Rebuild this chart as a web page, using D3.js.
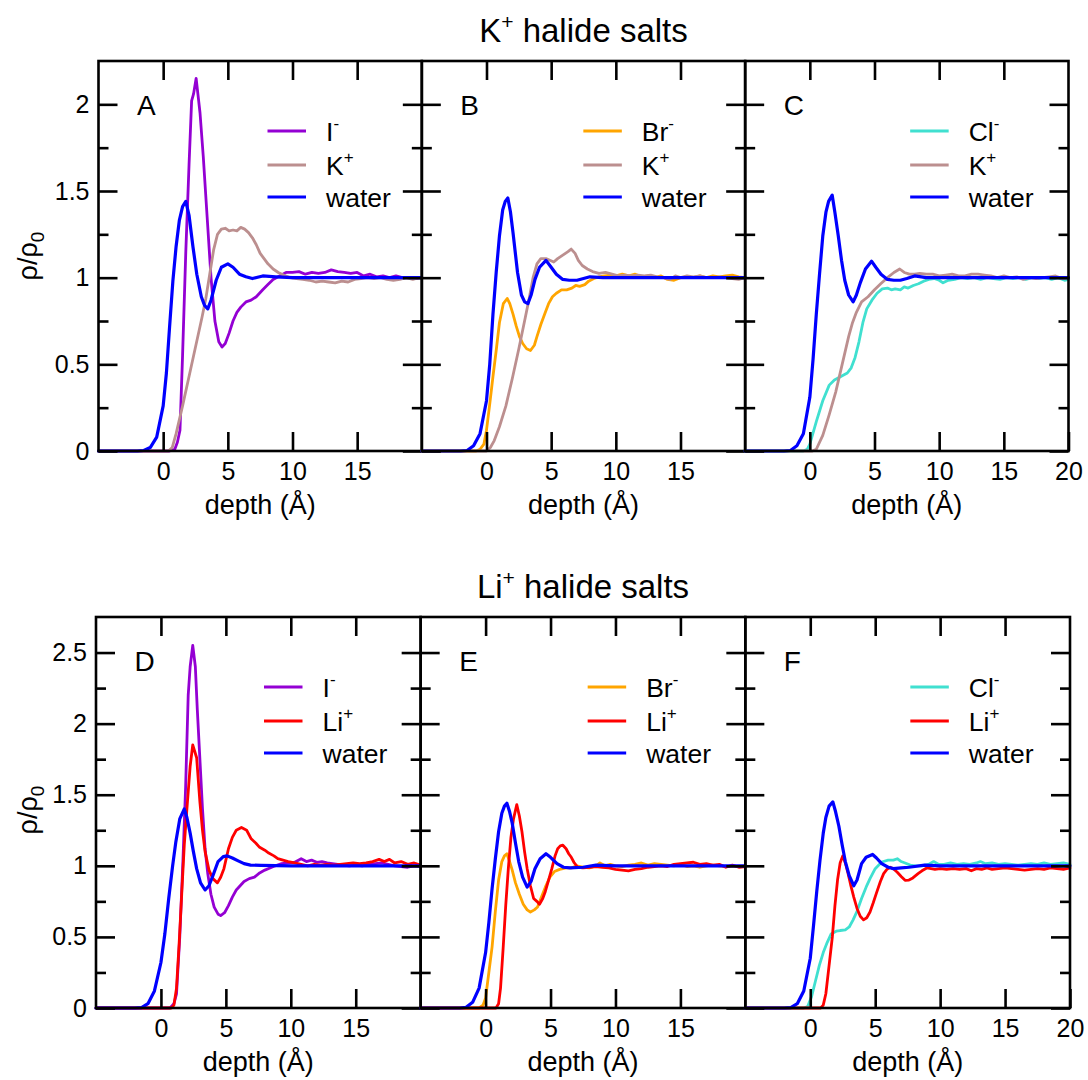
<!DOCTYPE html>
<meta charset="utf-8">
<style>
body { margin: 0; background: #fff; }
svg { font-family: "Liberation Sans", Arial, Helvetica, sans-serif; }
.frame { fill: none; stroke: #000; stroke-width: 2.6; }
.series { fill: none; stroke-linejoin: round; stroke-linecap: round; }
</style>
<svg width="1088" height="1080"></svg>
<script src="https://d3js.org/d3.v7.min.js"></script>
<script>

// ---- axis ticks ----
var xDomain = [-5, 20];
var xLabelsInner = [0, 5, 10, 15];
var xLabelsLast = [0, 5, 10, 15, 20];
var yMajorTop = [0, 0.5, 1, 1.5, 2];
var yMinorTop = [0.25, 0.75, 1.25, 1.75];
var yMajorBottom = [0, 0.5, 1, 1.5, 2, 2.5];
var yMinorBottom = [0.25, 0.75, 1.25, 1.75, 2.25];

// ---- panel A : KI ----
var waterA = [[-5,0],[-2,0],[-1.5,0.003],[-1,0.02],[-0.5,0.08],[0,0.26],[0.25,0.45],[0.5,0.72],[0.75,0.98],[1,1.18],[1.25,1.33],[1.5,1.41],[1.75,1.44],[2,1.36],[2.3,1.18],[2.6,1.02],[2.95,0.89],[3.2,0.84],[3.45,0.82],[3.7,0.87],[4.1,0.985],[4.5,1.06],[5,1.08],[5.4,1.06],[5.9,1.02],[6.4,1.005],[6.9,0.995],[7.7,1.01],[8.7,1.005],[10,1],[12,1],[15,1],[18,1],[20,1]];
var iodideA = [[-5,0],[0.5,0],[0.9,0.01],[1.1,0.05],[1.3,0.12],[1.5,0.55],[1.75,1.15],[2,1.65],[2.2,2.02],[2.35,2.06],[2.55,2.15],[2.7,2.05],[2.85,1.95],[3.1,1.7],[3.4,1.35],[3.7,1.0],[4,0.75],[4.3,0.63],[4.55,0.6],[4.8,0.62],[5.1,0.68],[5.4,0.75],[5.7,0.8],[6,0.83],[6.4,0.86],[6.8,0.87],[7.2,0.89],[7.7,0.93],[8.1,0.96],[8.5,0.99],[9,1.01],[9.5,1.03],[10,1.03],[10.5,1.035],[11,1.02],[11.5,1.03],[12,1.025],[12.5,1.03],[13,1.045],[13.5,1.035],[14,1.03],[14.5,1.025],[15,1.03],[15.5,1.01],[16,1.02],[16.5,1.005],[17,1.01],[17.5,1],[18,1.01],[18.5,1],[19,1],[19.5,0.995],[20,1]];
var potassiumA = [[-5,0],[0.4,0],[0.7,0.02],[1,0.1],[1.5,0.26],[2,0.43],[2.5,0.6],[3,0.77],[3.3,0.88],[3.6,1.02],[3.9,1.16],[4.2,1.25],[4.5,1.28],[4.8,1.285],[5.1,1.27],[5.4,1.275],[5.7,1.27],[6,1.29],[6.3,1.28],[6.6,1.26],[6.9,1.23],[7.2,1.19],[7.5,1.14],[7.8,1.11],[8.1,1.08],[8.5,1.05],[8.9,1.03],[9.3,1.015],[9.8,1],[10.3,0.995],[10.8,0.99],[11.3,0.985],[11.8,0.975],[12.3,0.98],[12.8,0.975],[13.3,0.97],[13.8,0.98],[14.3,0.975],[14.8,0.99],[15.3,0.995],[15.8,1],[16.3,0.995],[16.8,1],[17.3,0.99],[17.8,0.985],[18.3,0.99],[18.8,1],[19.3,0.99],[19.8,1],[20,0.995]];

// ---- panel B : KBr ----
var waterB = [[-5,0],[-2,0],[-1.5,0.003],[-1,0.03],[-0.5,0.1],[0,0.29],[0.25,0.5],[0.5,0.79],[0.75,1.03],[1,1.24],[1.25,1.39],[1.45,1.44],[1.65,1.46],[1.85,1.38],[2.05,1.26],[2.4,1.03],[2.7,0.9],[2.95,0.86],[3.2,0.85],[3.45,0.9],[3.75,0.99],[4.1,1.06],[4.6,1.1],[5,1.06],[5.4,1.02],[5.9,0.99],[6.4,0.985],[7,0.985],[7.5,0.995],[8,1.005],[9,1],[20,1]];
var bromideB = [[-5,0],[-0.8,0],[-0.5,0.01],[-0.2,0.04],[0,0.12],[0.25,0.27],[0.5,0.43],[0.75,0.58],[1,0.74],[1.3,0.85],[1.6,0.88],[1.8,0.85],[2.05,0.79],[2.3,0.72],[2.55,0.66],[2.8,0.62],[3.1,0.59],[3.4,0.58],[3.7,0.61],[3.9,0.66],[4.2,0.73],[4.5,0.79],[4.8,0.85],[5.1,0.89],[5.4,0.91],[5.8,0.93],[6.2,0.93],[6.6,0.94],[6.9,0.955],[7.2,0.95],[7.6,0.96],[7.9,0.98],[8.3,0.995],[8.7,1.005],[9.1,1.01],[9.6,1.015],[10,1.01],[10.5,1.02],[11,1.01],[11.5,1.02],[12,1.005],[12.5,1.01],[13,1],[13.5,1.01],[14,0.99],[14.5,0.985],[15,1],[15.5,1.005],[16,1],[16.5,1.01],[17,1],[17.5,1.01],[18,1.005],[18.5,1.01],[19,1.015],[19.5,1.005],[20,1]];
var potassiumB = [[-5,0],[0,0],[0.3,0.02],[0.6,0.06],[1,0.14],[1.5,0.26],[2,0.42],[2.5,0.59],[3,0.77],[3.3,0.88],[3.6,1],[3.9,1.08],[4.2,1.11],[4.6,1.11],[4.9,1.1],[5.2,1.09],[5.5,1.11],[5.9,1.13],[6.3,1.15],[6.55,1.165],[6.85,1.14],[7.1,1.1],[7.4,1.07],[7.8,1.05],[8.2,1.035],[8.7,1.025],[9.2,1.03],[9.7,1.02],[10.2,1.01],[10.7,1.015],[11.2,1.01],[11.7,1.015],[12.2,1.01],[12.7,1.015],[13.2,1.005],[13.7,1],[14.2,0.99],[14.6,1.01],[15,1],[15.5,1.01],[16,1.005],[16.5,1.01],[17,1],[17.5,1],[18,1.005],[18.5,1],[19,0.995],[19.5,0.99],[20,1]];

// ---- panel C : KCl ----
var waterC = [[-5,0],[-2,0],[-1.5,0.003],[-1,0.03],[-0.5,0.1],[0,0.31],[0.25,0.53],[0.5,0.79],[0.75,1.02],[1,1.24],[1.25,1.38],[1.45,1.44],[1.73,1.476],[1.95,1.37],[2.2,1.24],[2.45,1.1],[2.7,0.985],[3,0.9],[3.35,0.86],[3.6,0.9],[3.9,0.97],[4.3,1.05],[4.77,1.095],[5.1,1.06],[5.5,1.02],[6,0.99],[6.5,0.985],[7,0.985],[7.5,0.995],[8.1,1.01],[9,1],[20,1]];
var chlorideC = [[-5,0],[-0.5,0],[-0.2,0.01],[0,0.04],[0.5,0.17],[1,0.29],[1.5,0.38],[1.9,0.41],[2.4,0.43],[2.9,0.45],[3.2,0.48],[3.5,0.54],[3.8,0.63],[4.1,0.74],[4.4,0.82],[4.8,0.87],[5.2,0.91],[5.6,0.935],[6,0.94],[6.3,0.93],[6.6,0.935],[7,0.93],[7.3,0.947],[7.6,0.94],[8,0.955],[8.4,0.965],[8.8,0.98],[9.2,0.99],[9.6,0.995],[10,0.985],[10.3,0.97],[10.7,0.985],[11.2,0.99],[11.7,1],[12.2,0.995],[12.7,1],[13.2,0.99],[13.7,1],[14.2,0.995],[14.7,0.99],[15.2,1],[15.7,0.995],[16.2,1],[16.7,0.99],[17.2,1],[17.7,0.995],[18.2,1],[18.7,0.99],[19.2,1],[19.7,0.985],[20,0.99]];
var potassiumC = [[-5,0],[0.2,0],[0.5,0.01],[1,0.09],[1.5,0.21],[2,0.34],[2.5,0.5],[3,0.66],[3.3,0.74],[3.6,0.8],[4,0.86],[4.5,0.89],[5,0.93],[5.5,0.966],[6,1],[6.5,1.03],[6.95,1.05],[7.3,1.03],[7.7,1.02],[8.1,1.02],[8.5,1.025],[9,1.02],[9.5,1.02],[10,1.01],[10.5,1.015],[11,1.02],[11.5,1.01],[12,1.01],[12.5,1.02],[13,1.02],[13.5,1.015],[14,1.01],[14.5,1],[15,1.01],[15.5,1],[16,1.005],[16.5,0.99],[17,1],[17.5,0.995],[18,1],[18.5,1.005],[19,1.01],[19.5,0.995],[20,1]];

// ---- panel D : LiI ----
var waterD = [[-5,0],[-2,0],[-1.5,0.003],[-1,0.03],[-0.5,0.12],[0,0.32],[0.3,0.52],[0.6,0.77],[0.9,1],[1.15,1.17],[1.45,1.33],[1.8,1.4],[2,1.34],[2.25,1.23],[2.5,1.1],[2.75,0.98],[3.05,0.88],[3.4,0.83],[3.7,0.86],[4,0.93],[4.4,1.03],[4.8,1.065],[5.1,1.07],[5.5,1.055],[5.95,1.035],[6.4,1.015],[6.9,1.005],[7.7,1.003],[10,1],[20,1]];
var iodideD = [[-5,0],[0.7,0],[1,0.03],[1.2,0.1],[1.45,0.5],[1.7,1.05],[1.9,1.55],[2.1,2.2],[2.25,2.4],[2.45,2.55],[2.65,2.4],[2.8,2.1],[3,1.75],[3.2,1.4],[3.4,1.12],[3.6,0.95],[3.85,0.8],[4.1,0.71],[4.4,0.66],[4.6,0.65],[4.9,0.67],[5.2,0.72],[5.5,0.78],[5.8,0.83],[6.1,0.86],[6.4,0.89],[6.8,0.91],[7.2,0.92],[7.6,0.95],[8,0.97],[8.4,0.985],[8.8,1],[9.3,1.015],[9.8,1.02],[10.3,1.025],[10.8,1.05],[11.2,1.03],[11.6,1.04],[12,1.025],[12.4,1.03],[12.8,1.02],[13.2,1.015],[13.6,1.01],[14,1.005],[14.5,1],[15,1.005],[15.5,1],[16,1.01],[16.5,1.015],[17,1.02],[17.5,1.01],[18,1],[18.5,0.995],[19,0.99],[19.5,1],[20,0.995]];
var lithiumD = [[-5,0],[0.8,0],[1,0.02],[1.2,0.14],[1.4,0.45],[1.6,0.8],[1.8,1.15],[2,1.4],[2.25,1.7],[2.45,1.85],[2.75,1.76],[3,1.45],[3.2,1.25],[3.4,1.1],[3.7,0.97],[4,0.91],[4.35,0.88],[4.6,0.92],[4.85,0.98],[5.2,1.12],[5.5,1.2],[5.8,1.25],[6.2,1.27],[6.6,1.25],[6.95,1.19],[7.3,1.16],[7.6,1.13],[8,1.11],[8.3,1.09],[8.7,1.07],[9,1.05],[9.4,1.04],[9.8,1.03],[10.3,1.02],[10.8,1.01],[11.3,1],[11.8,1.01],[12.3,1.005],[12.8,1.01],[13.3,1.005],[13.8,1.01],[14.3,1.015],[14.8,1.02],[15.3,1.015],[15.8,1.02],[16.3,1.03],[16.8,1.045],[17.2,1.03],[17.6,1.045],[18,1.02],[18.5,1.03],[19,1.01],[19.5,1.02],[20,1.005]];

// ---- panel E : LiBr ----
var waterE = [[-5,0],[-2,0],[-1.5,0.005],[-1,0.04],[-0.5,0.14],[0,0.39],[0.25,0.6],[0.5,0.84],[0.75,1.05],[1,1.24],[1.25,1.37],[1.45,1.42],[1.64,1.44],[1.85,1.38],[2.05,1.3],[2.3,1.16],[2.55,1.03],[2.85,0.92],[3.2,0.85],[3.5,0.89],[3.8,0.98],[4.2,1.05],[4.65,1.085],[5,1.06],[5.5,1.015],[6,0.99],[6.5,0.985],[7.5,0.99],[8.5,1.005],[10,1],[20,1]];
var bromideE = [[-5,0],[-0.5,0],[-0.2,0.02],[0,0.07],[0.25,0.25],[0.5,0.43],[0.75,0.68],[1,0.9],[1.25,1.03],[1.45,1.07],[1.64,1.085],[1.85,1.03],[2.05,0.97],[2.3,0.88],[2.6,0.8],[2.9,0.73],[3.2,0.69],[3.45,0.675],[3.75,0.69],[4,0.71],[4.3,0.78],[4.6,0.85],[4.95,0.92],[5.3,0.96],[5.7,0.975],[6.2,0.985],[6.6,0.985],[7,1],[7.5,0.99],[8,0.985],[8.5,1],[8.8,1.02],[9.2,1],[9.6,1.01],[10,1],[10.5,0.995],[11,1.005],[11.5,1.01],[12,1.02],[12.5,1.005],[13,1.015],[13.5,1.01],[14,1.005],[14.5,1],[15,1.01],[15.5,0.995],[16,1],[16.5,0.99],[17,1],[17.5,1.005],[18,1],[18.5,0.995],[19,1],[19.5,0.995],[20,1]];
var lithiumE = [[-5,0],[0.8,0],[1,0.03],[1.15,0.14],[1.35,0.42],[1.55,0.72],[1.75,0.98],[1.95,1.2],[2.15,1.33],[2.4,1.43],[2.6,1.35],[2.8,1.24],[3,1.1],[3.2,0.98],[3.45,0.86],[3.7,0.77],[3.95,0.75],[4.15,0.73],[4.4,0.77],[4.6,0.82],[4.85,0.9],[5.1,0.98],[5.35,1.07],[5.55,1.12],[5.75,1.14],[5.95,1.145],[6.2,1.12],[6.4,1.085],[6.6,1.06],[6.8,1.025],[7.1,0.99],[7.5,0.985],[8,0.99],[8.5,0.995],[9,0.99],[9.5,0.985],[10,0.975],[10.5,0.97],[11,0.965],[11.5,0.975],[12,0.98],[12.5,0.99],[13,0.995],[13.5,1],[14,0.995],[14.5,1.01],[15,1.015],[15.5,1.02],[16,1.025],[16.5,1.01],[17,1.015],[17.5,1.005],[18,1.01],[18.5,0.99],[19,1.005],[19.5,0.99],[20,0.995]];

// ---- panel F : LiCl ----
var waterF = [[-5,0],[-2,0],[-1.5,0.003],[-1,0.03],[-0.5,0.12],[0,0.35],[0.25,0.58],[0.5,0.82],[0.75,1.04],[1,1.23],[1.2,1.34],[1.45,1.42],[1.74,1.45],[1.95,1.38],[2.2,1.28],[2.45,1.15],[2.7,1.03],[3,0.93],[3.35,0.86],[3.6,0.9],[3.95,1.015],[4.3,1.06],[4.8,1.08],[5.1,1.055],[5.5,1.015],[6,0.99],[6.4,0.98],[7,0.985],[7.6,0.99],[8.8,1.005],[10,1],[20,1]];
var chlorideF = [[-5,0],[-0.5,0],[-0.2,0.01],[0.1,0.08],[0.4,0.19],[0.7,0.3],[1,0.39],[1.3,0.46],[1.6,0.52],[2,0.54],[2.3,0.545],[2.7,0.55],[3,0.57],[3.3,0.62],[3.6,0.68],[3.95,0.77],[4.3,0.85],[4.6,0.91],[5,0.98],[5.5,1.027],[6,1.04],[6.4,1.04],[6.7,1.05],[7,1.03],[7.3,1.02],[7.7,1.005],[8.1,1],[8.6,1],[9.1,1.01],[9.5,1.03],[9.9,1.01],[10.3,1.01],[10.8,1.02],[11.3,1.01],[11.8,1.015],[12.3,1.01],[12.8,1.02],[13.1,1.03],[13.5,1.015],[14,1.02],[14.5,1.01],[15,1.015],[15.5,1.01],[16,1.005],[16.5,1.01],[17,1.015],[17.5,1.01],[18,1.02],[18.5,1.01],[19,1.015],[19.5,1.02],[20,1.01]];
var lithiumF = [[-5,0],[0.8,0],[1,0.02],[1.2,0.1],[1.45,0.3],[1.7,0.5],[1.9,0.72],[2.1,0.9],[2.3,1.02],[2.5,1.07],[2.7,1.02],[2.9,0.95],[3.1,0.87],[3.35,0.78],[3.6,0.7],[3.85,0.645],[4.1,0.62],[4.35,0.635],[4.6,0.675],[4.85,0.74],[5.1,0.81],[5.4,0.89],[5.65,0.945],[5.9,0.975],[6.15,0.99],[6.4,0.98],[6.7,0.955],[7,0.925],[7.3,0.898],[7.6,0.9],[7.9,0.915],[8.3,0.945],[8.6,0.965],[8.97,0.985],[9.3,0.98],[9.6,0.975],[10,0.98],[10.5,0.975],[11,0.98],[11.5,0.975],[12,0.98],[12.4,0.965],[12.8,0.98],[13.2,0.975],[13.6,0.985],[14,0.975],[14.5,0.98],[15,0.985],[15.5,0.98],[16,0.975],[16.5,0.97],[17,0.975],[17.5,0.98],[18,0.975],[18.5,0.985],[19,0.98],[19.5,0.975],[20,0.985]];

var colors = {iodide: "#9400d3", bromide: "#ffa500", chloride: "#40e0d0",
              potassium: "#bc8f8f", lithium: "#ff0000", water: "#0000ff"};

// each legend entry: [base text, superscript, colour key, data]
var rows = [
  {title: "K", titleSup: "+", titleRest: " halide salts", titleY: 42,
   top: 61, bottom: 451, left: 98.5, right: 1068.5, yMax: 2.25,
   yMajor: yMajorTop, yMinor: yMinorTop, yLabelY: 256,
   panels: [
     {letter: "A", legendX: 169, series: [["I", "-", "iodide", iodideA], ["K", "+", "potassium", potassiumA], ["water", "", "water", waterA]]},
     {letter: "B", legendX: 161.5, series: [["Br", "-", "bromide", bromideB], ["K", "+", "potassium", potassiumB], ["water", "", "water", waterB]]},
     {letter: "C", legendX: 165, series: [["Cl", "-", "chloride", chlorideC], ["K", "+", "potassium", potassiumC], ["water", "", "water", waterC]]}
   ]},
  {title: "Li", titleSup: "+", titleRest: " halide salts", titleY: 598,
   top: 617, bottom: 1008, left: 96, right: 1070, yMax: 2.75,
   yMajor: yMajorBottom, yMinor: yMinorBottom, yLabelY: 810,
   panels: [
     {letter: "D", legendX: 168, series: [["I", "-", "iodide", iodideD], ["Li", "+", "lithium", lithiumD], ["water", "", "water", waterD]]},
     {letter: "E", legendX: 167, series: [["Br", "-", "bromide", bromideE], ["Li", "+", "lithium", lithiumE], ["water", "", "water", waterE]]},
     {letter: "F", legendX: 165, series: [["Cl", "-", "chloride", chlorideF], ["Li", "+", "lithium", lithiumF], ["water", "", "water", waterF]]}
   ]}
];

var legendRowY = [70, 104, 136];
var majorLen = 19, minorLen = 10;
var fontFamily = '"Liberation Sans", Arial, Helvetica, sans-serif';

var svg = d3.select("svg");

function styleAxis(sel, fontSize) {
  sel.select(".domain").remove();
  sel.attr("font-family", fontFamily).attr("font-size", fontSize);
  sel.selectAll(".tick line").attr("stroke", "#000").attr("stroke-width", 2.6);
  sel.selectAll(".tick text").attr("fill", "#000");
}

rows.forEach(function(row) {
  // row title
  var t = svg.append("text")
      .attr("x", (row.left + row.right) / 2)
      .attr("y", row.titleY)
      .attr("text-anchor", "middle")
      .attr("font-size", 33);
  t.append("tspan").text(row.title);
  t.append("tspan").attr("font-size", 21).attr("dy", -13).text(row.titleSup);
  t.append("tspan").attr("dy", 13).text(row.titleRest);

  // y label
  var yl = svg.append("text")
      .attr("transform", "translate(37," + row.yLabelY + ") rotate(-90)")
      .attr("text-anchor", "middle")
      .attr("font-size", 27);
  yl.append("tspan").text("ρ/ρ");
  yl.append("tspan").attr("font-size", 19).attr("dy", 7).text("0");

  var pw = (row.right - row.left) / 3;
  var y = d3.scaleLinear().domain([0, row.yMax]).range([row.bottom, row.top]);

  row.panels.forEach(function(p, i) {
    var x0 = row.left + i * pw;
    var x = d3.scaleLinear().domain(xDomain).range([x0, x0 + pw]);
    var g = svg.append("g");

    var line = d3.line()
        .x(function(d) { return x(d[0]); })
        .y(function(d) { return y(d[1]); });

    // curves, drawn in legend order so water ends on top
    p.series.forEach(function(s) {
      g.append("path")
          .datum(s[3])
          .attr("class", "series")
          .attr("stroke", colors[s[2]])
          .attr("stroke-width", s[2] === "water" ? 3.2 : 2.8)
          .attr("d", line);
    });

    // frame
    g.append("rect")
        .attr("class", "frame")
        .attr("x", x0).attr("y", row.top)
        .attr("width", pw).attr("height", row.bottom - row.top);

    // x ticks, bottom with labels, top without
    var xb = g.append("g")
        .attr("transform", "translate(0," + row.bottom + ")")
        .call(d3.axisBottom(x)
          .tickValues(i === 2 ? xLabelsLast : xLabelsInner)
          .tickSize(-majorLen).tickPadding(11)
          .tickFormat(d3.format("d")));
    styleAxis(xb, 25);

    var xt = g.append("g")
        .attr("transform", "translate(0," + row.top + ")")
        .call(d3.axisTop(x).tickValues(xLabelsInner).tickSize(-majorLen).tickFormat(""));
    styleAxis(xt, 25);

    // y ticks left (labels only on the first panel) and right
    var yAxisL = d3.axisLeft(y).tickValues(row.yMajor).tickSize(-majorLen).tickPadding(9)
        .tickFormat(i === 0 ? d3.format("~g") : function() { return ""; });
    var yl1 = g.append("g").attr("transform", "translate(" + x0 + ",0)").call(yAxisL);
    styleAxis(yl1, 25);
    var yl2 = g.append("g").attr("transform", "translate(" + x0 + ",0)")
        .call(d3.axisLeft(y).tickValues(row.yMinor).tickSize(-minorLen).tickFormat(""));
    styleAxis(yl2, 25);

    var yr1 = g.append("g").attr("transform", "translate(" + (x0 + pw) + ",0)")
        .call(d3.axisRight(y).tickValues(row.yMajor).tickSize(-majorLen).tickFormat(""));
    styleAxis(yr1, 25);
    var yr2 = g.append("g").attr("transform", "translate(" + (x0 + pw) + ",0)")
        .call(d3.axisRight(y).tickValues(row.yMinor).tickSize(-minorLen).tickFormat(""));
    styleAxis(yr2, 25);

    // x label
    g.append("text")
        .attr("x", x(7.5))
        .attr("y", row.bottom + 63)
        .attr("text-anchor", "middle")
        .attr("font-size", 27)
        .text("depth (Å)");

    // panel letter
    g.append("text")
        .attr("x", x0 + 38.5)
        .attr("y", row.top + 54)
        .attr("font-size", 28)
        .text(p.letter);

    // legend
    var lx = x0 + p.legendX;
    p.series.forEach(function(s, k) {
      var ly = row.top + legendRowY[k];
      g.append("line")
          .attr("x1", lx).attr("x2", lx + 38.5)
          .attr("y1", ly).attr("y2", ly)
          .attr("stroke", colors[s[2]])
          .attr("stroke-width", s[2] === "water" ? 3.2 : 2.8);
      var lt = g.append("text")
          .attr("x", lx + 58.5)
          .attr("y", ly + 10)
          .attr("font-size", 26.5);
      lt.append("tspan").text(s[0]);
      if (s[1]) lt.append("tspan").attr("font-size", 17).attr("dy", -12).text(s[1]);
    });
  });
});

</script>
